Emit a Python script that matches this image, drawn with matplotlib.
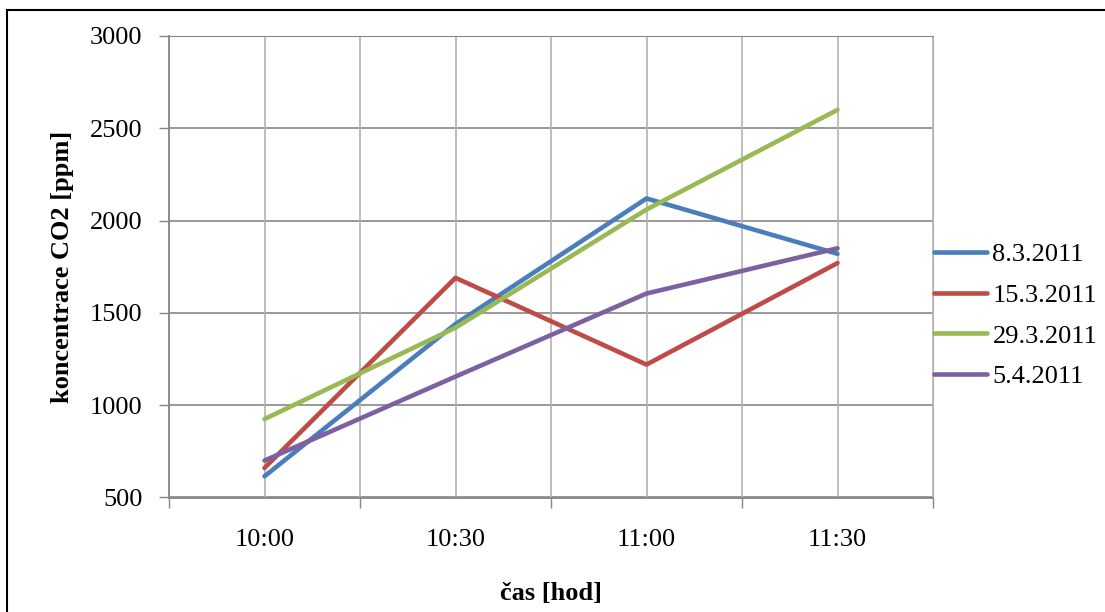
import matplotlib
matplotlib.use('Agg')
from matplotlib import pyplot as plt
from matplotlib.lines import Line2D

# data
times = ['10:00', '10:30', '11:00', '11:30']
labels = ['8.3.2011', '15.3.2011', '29.3.2011', '5.4.2011']
co2_0803 = [615, 1440, 2120, 1820]
co2_1503 = [660, 1690, 1220, 1770]
co2_2903 = [925, 1420, 2060, 2600]
co2_0504 = [700, 1155, 1605, 1850]
colors = ['#4A7EBB', '#BE4B48', '#98B954', '#7D60A0']

plt.rcParams['font.family'] = ['Liberation Serif', 'DejaVu Serif']
fs = 19

fig = plt.figure(figsize=(11.05, 6.12), dpi=100)
ax = fig.add_axes([169 / 1105, 1 - 497.5 / 612, (933 - 169) / 1105, (497.5 - 36) / 612])

x = list(range(len(times)))
for ys, lab, col in zip([co2_0803, co2_1503, co2_2903, co2_0504], labels, colors):
    ax.plot(x, ys, color=col, linewidth=3.3, label=lab, solid_capstyle='round', zorder=3)

ax.set_xlim(-0.5, len(times) - 0.5)
ax.set_ylim(500, 3000)
ax.set_yticks(range(500, 3001, 500))

# category boundaries carry the tick marks, labels sit at category centers
ax.set_xticks([i - 0.5 for i in range(len(times) + 1)])
ax.set_xticklabels([])
ax.set_xticks(x, minor=True)
ax.set_xticklabels(times, minor=True)
ax.tick_params(axis='x', which='major', length=7, width=1, color='#868686', direction='out')
ax.tick_params(axis='x', which='minor', length=0, pad=23, labelsize=fs)
ax.tick_params(axis='y', length=7, width=1, color='#868686', direction='out', pad=12, labelsize=fs)

# vertical grid (light) at centers and boundaries, horizontal grid darker
for v in [i - 0.5 for i in range(len(times) + 1)] + x:
    ax.axvline(v, color='#B3B3B3', linewidth=1.2, zorder=1)
ax.yaxis.grid(True, color='#868686', linewidth=1.2, zorder=1)
ax.set_axisbelow(True)

for side in ['left', 'bottom']:
    ax.spines[side].set_color('#868686')
    ax.spines[side].set_linewidth(1.3)
ax.spines['top'].set_color('#868686')
ax.spines['right'].set_color('#B3B3B3')

ax.set_ylabel('koncentrace CO2 [ppm]', fontsize=fs, fontweight='bold', labelpad=11.5)
ax.set_xlabel('čas [hod]', fontsize=fs, fontweight='bold', labelpad=22)

ax.legend(loc='center left', bbox_to_anchor=(1.0, 0.394), frameon=False, fontsize=fs,
          handlelength=2.0, handletextpad=0.2, labelspacing=0.65, borderaxespad=0.0,
          borderpad=0.05)

# outer frame like the embedded chart object
fig.add_artist(Line2D([7 / 1105, 1.0], [1 - 10 / 612, 1 - 10 / 612], color='black', linewidth=1.5))
fig.add_artist(Line2D([7 / 1105, 7 / 1105], [0.0, 1 - 10 / 612], color='black', linewidth=1.5))

fig.savefig('out.png', dpi=100, facecolor='white')
